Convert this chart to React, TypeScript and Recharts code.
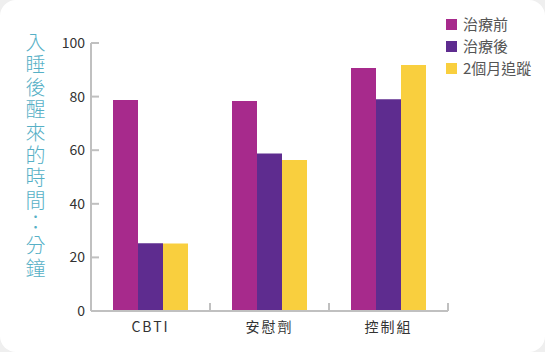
import { Bar, BarChart, XAxis, YAxis } from "recharts";

const categories = ["CBTI", "安慰劑", "控制組"];
const before = [78.7, 78.4, 90.7];
const after = [25.3, 58.8, 79.0];
const followUp = [25.2, 56.3, 91.8];
const yTicks = [0, 20, 40, 60, 80, 100];
const yLabel = "入睡後醒來的時間：分鐘";

const seriesInfo = [
  { key: "before", name: "治療前", color: "#A72A8C" },
  { key: "after", name: "治療後", color: "#5E2C8F" },
  { key: "followUp", name: "2個月追蹤", color: "#F9CF3E" },
];

const data = categories.map((name, i) => ({
  name,
  before: before[i],
  after: after[i],
  followUp: followUp[i],
}));

const W = 545;
const H = 352;
const margin = { top: 43, right: 97, bottom: 0, left: 0 };
const yAxisWidth = 91;
const xAxisHeight = 41;
const bandHalf = (W - margin.right - yAxisWidth) / categories.length / 2;
const FONT = "'Noto Sans CJK TC', 'Noto Sans', sans-serif";

function CategoryTick(props: any) {
  const { x, y, payload, index } = props;
  return (
    <g>
      <line x1={x - bandHalf} x2={x - bandHalf} y1={y} y2={y - 8} stroke="#c0c0c0" strokeWidth={2} />
      {index === categories.length - 1 && (
        <line x1={x + bandHalf} x2={x + bandHalf} y1={y} y2={y - 8} stroke="#c0c0c0" strokeWidth={2} />
      )}
      <text x={x} y={y + 21} textAnchor="middle" fill="#333" fontSize={14} letterSpacing={2} fontFamily={FONT}>
        {payload.value}
      </text>
    </g>
  );
}

function LegendBox() {
  return (
    <div style={{ position: "absolute", left: 446, top: 13, fontFamily: FONT }}>
      {seriesInfo.map((s) => (
        <div key={s.key} style={{ display: "flex", alignItems: "center", height: 22 }}>
          <span style={{ width: 11, height: 11, background: s.color, display: "inline-block", marginRight: 6 }} />
          <span style={{ fontSize: 15, color: "#555", lineHeight: "22px" }}>{s.name}</span>
        </div>
      ))}
    </div>
  );
}

export default function App() {
  return (
    <div style={{ position: "fixed", left: 0, top: 0, width: W, height: H, background: "#efefef" }}>
      <div style={{ position: "absolute", inset: 0, background: "#fff", borderRadius: 16 }} />
      <div
        lang="zh-Hant"
        style={{
          position: "absolute",
          left: 25,
          top: 32,
          writingMode: "vertical-rl",
          textOrientation: "upright",
          fontFamily: FONT,
          fontWeight: 300,
          fontSize: 20,
          lineHeight: "20px",
          letterSpacing: 2.6,
          color: "#56B0C6",
          whiteSpace: "nowrap",
        }}
      >
        {yLabel}
      </div>
      <div style={{ position: "absolute", left: 0, top: 0 }}>
        <BarChart width={W} height={H} data={data} margin={margin} barGap={0} barSize={25}>
          <XAxis
            dataKey="name"
            height={xAxisHeight}
            stroke="#c0c0c0"
            strokeWidth={2}
            tickLine={false}
            tickSize={0}
            tickMargin={0}
            tick={<CategoryTick />}
            interval={0}
          />
          <YAxis
            width={yAxisWidth}
            domain={[0, 100]}
            ticks={yTicks}
            interval={0}
            stroke="#c0c0c0"
            strokeWidth={2}
            tickSize={-8}
            tickMargin={14}
            tick={{ fill: "#333", fontSize: 14, fontFamily: FONT }}
          />
          {seriesInfo.map((s) => (
            <Bar key={s.key} dataKey={s.key} name={s.name} fill={s.color} isAnimationActive={false} />
          ))}
        </BarChart>
      </div>
      <LegendBox />
    </div>
  );
}
